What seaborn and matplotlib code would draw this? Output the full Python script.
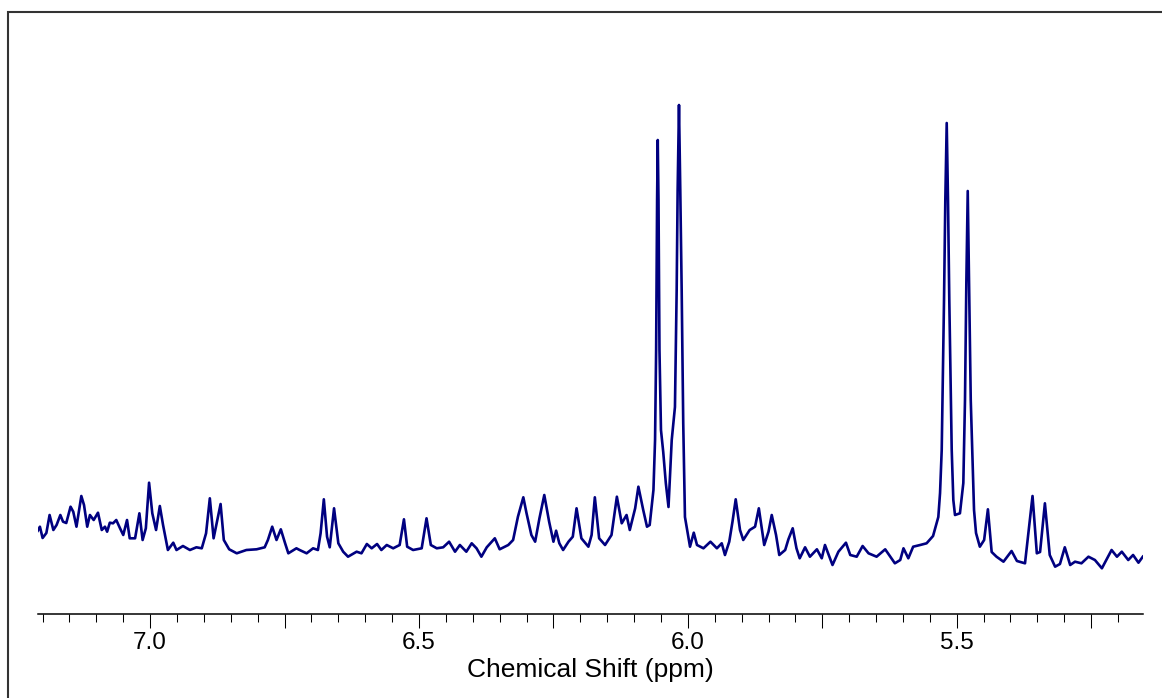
import matplotlib
matplotlib.use("Agg")
import numpy as np
import pandas as pd
import matplotlib.pyplot as plt
import seaborn as sns
from matplotlib.ticker import FixedLocator, MultipleLocator, FuncFormatter
from matplotlib.patches import Rectangle

# Traced spectrum (chemical shift in ppm, intensity in arbitrary units)
shift_ppm = [
    7.210, 7.205, 7.200, 7.193, 7.187, 7.180, 7.174, 7.167, 7.162, 7.156,
    7.148, 7.143, 7.137, 7.128, 7.123, 7.117, 7.112, 7.105, 7.097, 7.090,
    7.084, 7.080, 7.075, 7.069, 7.063, 7.056, 7.050, 7.043, 7.038, 7.028,
    7.020, 7.014, 7.008, 7.002, 6.996, 6.989, 6.982, 6.976, 6.967, 6.957,
    6.951, 6.939, 6.926, 6.914, 6.904, 6.896, 6.889, 6.882, 6.869, 6.863,
    6.853, 6.839, 6.821, 6.802, 6.787, 6.781, 6.773, 6.765, 6.757, 6.749,
    6.743, 6.728, 6.722, 6.709, 6.697, 6.688, 6.683, 6.677, 6.671, 6.666,
    6.658, 6.650, 6.641, 6.632, 6.616, 6.607, 6.597, 6.588, 6.578, 6.570,
    6.560, 6.548, 6.536, 6.528, 6.522, 6.511, 6.495, 6.486, 6.478, 6.467,
    6.455, 6.444, 6.433, 6.424, 6.412, 6.402, 6.393, 6.384, 6.374, 6.359,
    6.350, 6.334, 6.325, 6.316, 6.306, 6.300, 6.291, 6.284, 6.276, 6.267,
    6.258, 6.250, 6.245, 6.239, 6.232, 6.222, 6.214, 6.207, 6.198, 6.185,
    6.179, 6.173, 6.165, 6.154, 6.142, 6.132, 6.123, 6.114, 6.108, 6.098,
    6.092, 6.083, 6.076, 6.071, 6.0640, 6.0610, 6.0590, 6.0572, 6.0560, 6.0546,
    6.0528, 6.0500, 6.0458, 6.0410, 6.0360, 6.0300, 6.0240, 6.0208, 6.0190, 6.0165,
    6.0141, 6.0115, 6.0086, 6.0054, 5.996, 5.989, 5.983, 5.971, 5.958, 5.946,
    5.937, 5.931, 5.923, 5.917, 5.911, 5.903, 5.897, 5.885, 5.875, 5.868,
    5.858, 5.850, 5.844, 5.836, 5.830, 5.819, 5.813, 5.805, 5.798, 5.792,
    5.782, 5.773, 5.760, 5.751, 5.745, 5.731, 5.720, 5.706, 5.698, 5.686,
    5.675, 5.664, 5.649, 5.633, 5.615, 5.605, 5.599, 5.590, 5.581, 5.568,
    5.556, 5.544, 5.5342, 5.5310, 5.5279, 5.5236, 5.5212, 5.5186, 5.5162, 5.5138,
    5.5093, 5.5063, 5.5032, 5.4940, 5.4877, 5.4846, 5.4821, 5.4795, 5.4771, 5.4739,
    5.4702, 5.4678, 5.4641, 5.457, 5.449, 5.442, 5.435, 5.426, 5.413, 5.398,
    5.388, 5.373, 5.359, 5.351, 5.345, 5.336, 5.327, 5.317, 5.308, 5.299,
    5.289, 5.280, 5.268, 5.255, 5.243, 5.230, 5.212, 5.202, 5.193, 5.181,
    5.172, 5.162, 5.153,
]
intensity = [
    82.3, 87.3, 76, 81, 99, 84, 89, 99, 92.3, 91,
    107.3, 102.3, 87.3, 118, 109, 87.3, 99, 94, 101.3, 84,
    87.3, 82.3, 91.3, 90.7, 94, 85.7, 79, 94, 75.7, 75.7,
    100.7, 74, 85.7, 131.3, 100.7, 84, 108, 89, 64, 71.3,
    64, 68, 64, 66.7, 65.7, 80.7, 115.7, 75.7, 110, 74,
    64.7, 60.7, 64, 64.7, 66.7, 74, 87.3, 74, 84.7, 70.7,
    60.7, 65.7, 64, 60.7, 65.7, 64, 80.7, 114.7, 77.3, 66.7,
    105.7, 70.7, 62.3, 57.3, 62.3, 60.7, 70, 65.7, 70, 64,
    69, 65.7, 69, 94.7, 67.3, 64, 65.7, 95.7, 69, 65.7,
    66.7, 72.3, 62.3, 69, 62.3, 70.7, 65.7, 57.3, 66.7, 75.7,
    64.7, 69, 74, 97.3, 116.7, 100.7, 79, 72.3, 95.7, 119,
    92.3, 72.3, 83.3, 70.7, 64, 72.3, 77.3, 105.7, 75.7, 67.3,
    79, 116.7, 75.7, 69, 79, 117.3, 90.7, 99, 84, 105.7,
    127.3, 104, 87.3, 89, 124, 174, 264, 414, 474, 414,
    264, 184, 162, 131, 107, 174, 207, 324, 424, 509,
    424, 324, 191, 97, 67.3, 81.3, 69, 65.7, 72.3, 65.7,
    70.7, 59, 72.3, 92.3, 114.7, 84, 74, 84, 87.3, 105.7,
    69, 82.3, 99, 79, 59, 64, 74.7, 85.7, 65.7, 55.7,
    66.7, 57.3, 64.7, 55.7, 69, 49, 62.3, 71.3, 59, 57.3,
    68, 60.7, 57.3, 64.7, 50.7, 54, 65.7, 55.7, 67.3, 69,
    70.7, 78, 97, 121, 164, 314, 414, 491, 414, 314,
    164, 114, 99, 100.7, 131, 214, 331, 423, 331, 214,
    147, 104, 81, 67.3, 74, 104.7, 62, 57.3, 52.3, 63,
    53, 50.7, 118, 60.7, 62, 110.7, 59, 47.3, 50, 66.7,
    49, 52.3, 50.7, 57.3, 54, 45.7, 64, 57.3, 62.3, 54,
    59, 51.3, 58,
]

major_ticks = [7.0, 6.75, 6.5, 6.25, 6.0, 5.75, 5.5, 5.25]
tick_labels = {7.0: "7.0", 6.5: "6.5", 6.0: "6.0", 5.5: "5.5"}
x_label = "Chemical Shift (ppm)"

sns.set_style("white")
plt.rcParams["font.family"] = ["Liberation Sans", "DejaVu Sans"]

W, H = 1162, 698
fig = plt.figure(figsize=(W / 100, H / 100), dpi=100)
ax = fig.add_axes([38.3 / W, 84 / H, 1105 / W, 602 / H])

df = pd.DataFrame({"ppm": shift_ppm, "intensity": intensity})
sns.lineplot(data=df, x="ppm", y="intensity", ax=ax, color="#000080",
             linewidth=1.9, estimator=None, sort=False)

ax.set_xlim(7.208, 5.153)
ax.set_ylim(0, 602)
for s in ["left", "right", "top"]:
    ax.spines[s].set_visible(False)
ax.spines["bottom"].set_linewidth(1.1)
ax.spines["bottom"].set_color("black")
ax.set_yticks([])
ax.set_ylabel("")
ax.set_facecolor("white")

ax.xaxis.set_major_locator(FixedLocator(major_ticks))
ax.xaxis.set_major_formatter(FuncFormatter(lambda v, p: tick_labels.get(round(v, 2), "")))
ax.xaxis.set_minor_locator(MultipleLocator(0.05))
ax.tick_params(axis="x", which="major", length=10, width=0.75, direction="out",
               pad=3, labelsize=17.5, colors="black", bottom=True)
ax.tick_params(axis="x", which="minor", length=5.8, width=0.75, direction="out",
               colors="black", bottom=True)
ax.set_xlabel(x_label, fontsize=19, labelpad=3, color="black")

fig.add_artist(Rectangle((7.5 / W, -0.1), 1.2, 0.1 + 1 - 12 / H,
                         transform=fig.transFigure, fill=False,
                         edgecolor="#333333", linewidth=1.5))

fig.savefig("out.png", dpi=100, facecolor="white")
